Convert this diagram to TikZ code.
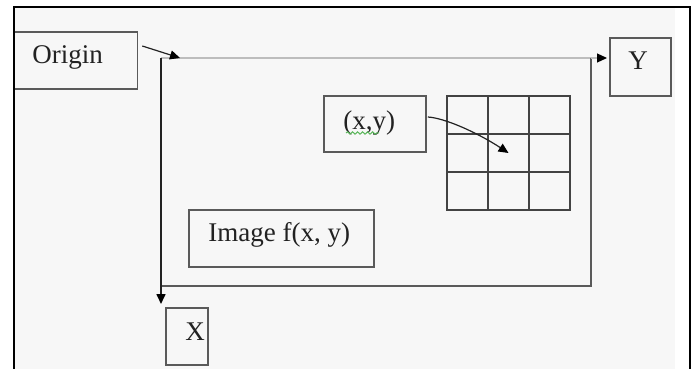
\documentclass[tikz,border=0pt]{standalone}
\usepackage{fontspec}
\setmainfont{Liberation Serif}
\usetikzlibrary{arrows.meta,decorations.pathmorphing}
\definecolor{paper}{HTML}{F7F7F7}
\definecolor{edge}{HTML}{5A5A5A}
\definecolor{ink}{HTML}{222222}
\definecolor{faint}{HTML}{BDBDBD}
\definecolor{squiggle}{HTML}{5CB85C}

\begin{document}
\begin{tikzpicture}
		[x=0.5pt,y=-0.5pt, box/.style={draw=edge, line width=0.8pt, inner sep=0}, lbl/.style={anchor=base west, inner sep=0, text=ink, font=\fontsize{13.5}{16}\selectfont}, cell/.style={draw=ink!85, line width=0.7pt, minimum width=20.5pt, minimum height=19pt, inner sep=0}, tip/.style={-{Triangle[length=5pt,width=4.5pt,color=black]}}]
		\useasboundingbox (0,0) rectangle (696,369);
		\fill[paper] (14,7) rectangle (675,369);
		% boxes
		\node[box, minimum width=61.5pt, minimum height=28.5pt] (origin) at (76,60.5) {};
		\node[box, minimum width=51pt, minimum height=28pt] (xy) at (375,124) {};
		\node[box, minimum width=92.5pt, minimum height=28.5pt] (image) at (281.5,238.5) {};
		\node[box, minimum width=30.5pt, minimum height=29pt] (ybox) at (640.5,67) {};
		\node[box, minimum width=21pt, minimum height=28.5pt] (xbox) at (187,336.5) {};
		\node[lbl] (origintext) at (32,64) {Origin};
		\node[lbl] (xytext) at (343,130) {(x,y)};
		\node[lbl] (imagetext) at (208,241) {Image f(x, y)};
		\node[lbl] (ytext) at (628,70) {Y};
		\node[lbl] (xtext) at (185,340) {X};
		\draw[squiggle, line width=0.5pt, decorate, decoration={snake, amplitude=0.6pt, segment length=2.5pt}] (346,133) -- (379,133);
		% pixel grid
		\foreach \i in {0,1,2}
		{
			\foreach \j in {0,1,2}
			{
				\node[cell] (c\i\j) at (467.5+41*\i,115+38*\j) {};
			}
		}
		% axes
		\coordinate (corner) at (161,58);
		\coordinate (far) at (591,286);
		\coordinate (xtip) at (161,304);
		\coordinate (ytip) at (607,58);
		\draw[faint, line width=0.6pt] (corner) -- (corner -| far);
		\draw[edge, line width=0.8pt] (corner -| far) -- (far) -- (far -| corner);
		\draw[ink, line width=0.8pt, tip] (corner) -- (xtip);
		\draw[faint, line width=0.6pt, tip] (corner -| far) -- (ytip);
		\draw[ink, line width=0.6pt, tip] ([shift={(4,-14.5)}]origin.east) -- ([shift={(19,0)}]corner);
		\draw[ink, line width=0.6pt, tip] ([shift={(1,-7)}]xy.east) .. controls (445,118) and (478,133) .. (c11.center);
		% frame
		\draw[line width=1.3pt] (14,369) -- (14,7) -- (690,7) -- (690,369);
	\end{tikzpicture}
\end{document}
